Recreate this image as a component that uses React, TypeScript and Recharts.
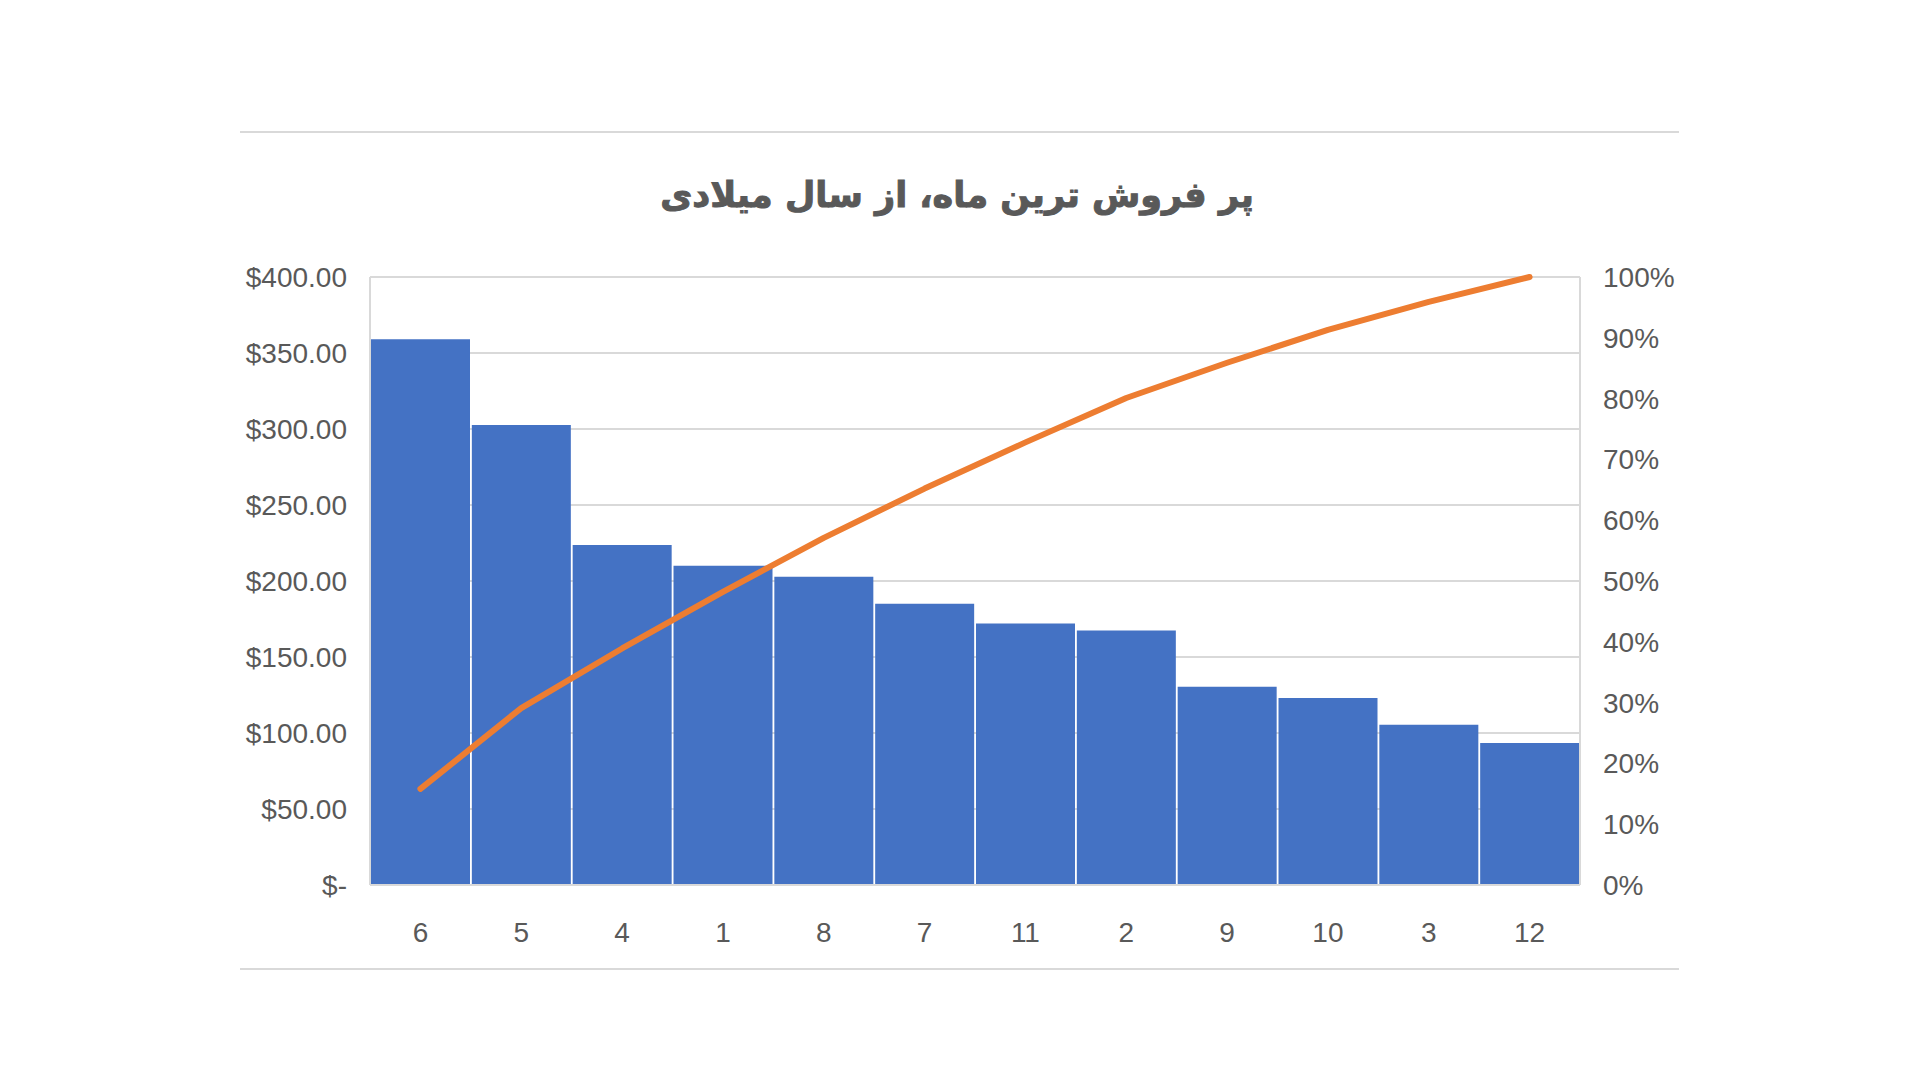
import React from 'react'
import {
  ComposedChart, Bar, Line, XAxis, YAxis, CartesianGrid,
} from 'recharts'

// ماه‌ها به ترتیب فروش
const months = ['6', '5', '4', '1', '8', '7', '11', '2', '9', '10', '3', '12']
// فروش هر ماه (دلار)
const sales = [359, 302.6, 223.7, 210, 202.8, 185, 172, 167.4, 130.4, 123, 105.4, 93.4]
// درصد تجمعی (خوانده شده از نمودار)
const cumulative = [15.8, 29.1, 38.9, 48.2, 57.1, 65.2, 72.8, 80.1, 85.9, 91.3, 95.9, 100]

const leftTicks = [0, 50, 100, 150, 200, 250, 300, 350, 400]
const rightTicks = [0, 10, 20, 30, 40, 50, 60, 70, 80, 90, 100]

const data = months.map((m, i) => ({ month: m, sales: sales[i], pct: cumulative[i] }))

const TEXT = '#595959'
const FONT = '"Liberation Sans", Arial, sans-serif'
const tickStyle = { fontSize: 28, fill: TEXT, fontFamily: FONT }

const fmtMoney = (v: number) => (v === 0 ? '$-' : `$${v.toFixed(2)}`)

export default function App() {
  return (
    <div style={{ position: 'absolute', left: 0, top: 0, width: 1920, height: 1080, background: '#fff' }}>
      {/* خطوط بالا و پایین کادر */}
      <div style={{ position: 'absolute', left: 240, width: 1439, top: 131, height: 0, borderTop: '2px solid #d9d9d9' }} />
      <div style={{ position: 'absolute', left: 240, width: 1439, top: 968, height: 0, borderTop: '2px solid #d9d9d9' }} />

      <div
        dir="rtl"
        style={{
          position: 'absolute', left: 0, width: 1914, top: 175, textAlign: 'center',
          fontFamily: '"DejaVu Sans", sans-serif', fontWeight: 'bold', fontSize: 35, color: TEXT,
          WebkitTextStroke: '1px #595959',
        }}
      >
        پر فروش ترین ماه، از سال میلادی
      </div>

      <div style={{ position: 'absolute', left: 0, top: 0 }}>
        <ComposedChart
          width={1920}
          height={1080}
          data={data}
          barCategoryGap={1}
          margin={{ top: 277, right: 240, bottom: 135, left: 240 }}
        >
          <CartesianGrid yAxisId="left" vertical={false} stroke="#d9d9d9" strokeWidth={2} />
          <XAxis
            dataKey="month"
            height={60}
            tickLine={false}
            axisLine={{ stroke: '#d9d9d9', strokeWidth: 2 }}
            tick={tickStyle}
            tickMargin={31}
          />
          <YAxis
            yAxisId="left"
            width={130}
            domain={[0, 400]}
            ticks={leftTicks}
            interval={0}
            tickFormatter={fmtMoney}
            tickLine={false}
            axisLine={{ stroke: '#d9d9d9', strokeWidth: 2 }}
            tick={tickStyle}
            tickMargin={17}
          />
          <YAxis
            yAxisId="right"
            orientation="right"
            width={100}
            domain={[0, 100]}
            ticks={rightTicks}
            interval={0}
            tickFormatter={(v: number) => `${v}%`}
            tickLine={false}
            axisLine={{ stroke: '#d9d9d9', strokeWidth: 2 }}
            tick={{ ...tickStyle, textAnchor: 'start' }}
            tickMargin={17}
          />
          <Bar yAxisId="left" dataKey="sales" fill="#4472C4" isAnimationActive={false} />
          <Line
            yAxisId="right"
            type="linear"
            dataKey="pct"
            stroke="#ED7D31"
            strokeWidth={6}
            strokeLinecap="round"
            strokeLinejoin="round"
            dot={false}
            activeDot={false}
            isAnimationActive={false}
          />
        </ComposedChart>
      </div>
    </div>
  )
}
